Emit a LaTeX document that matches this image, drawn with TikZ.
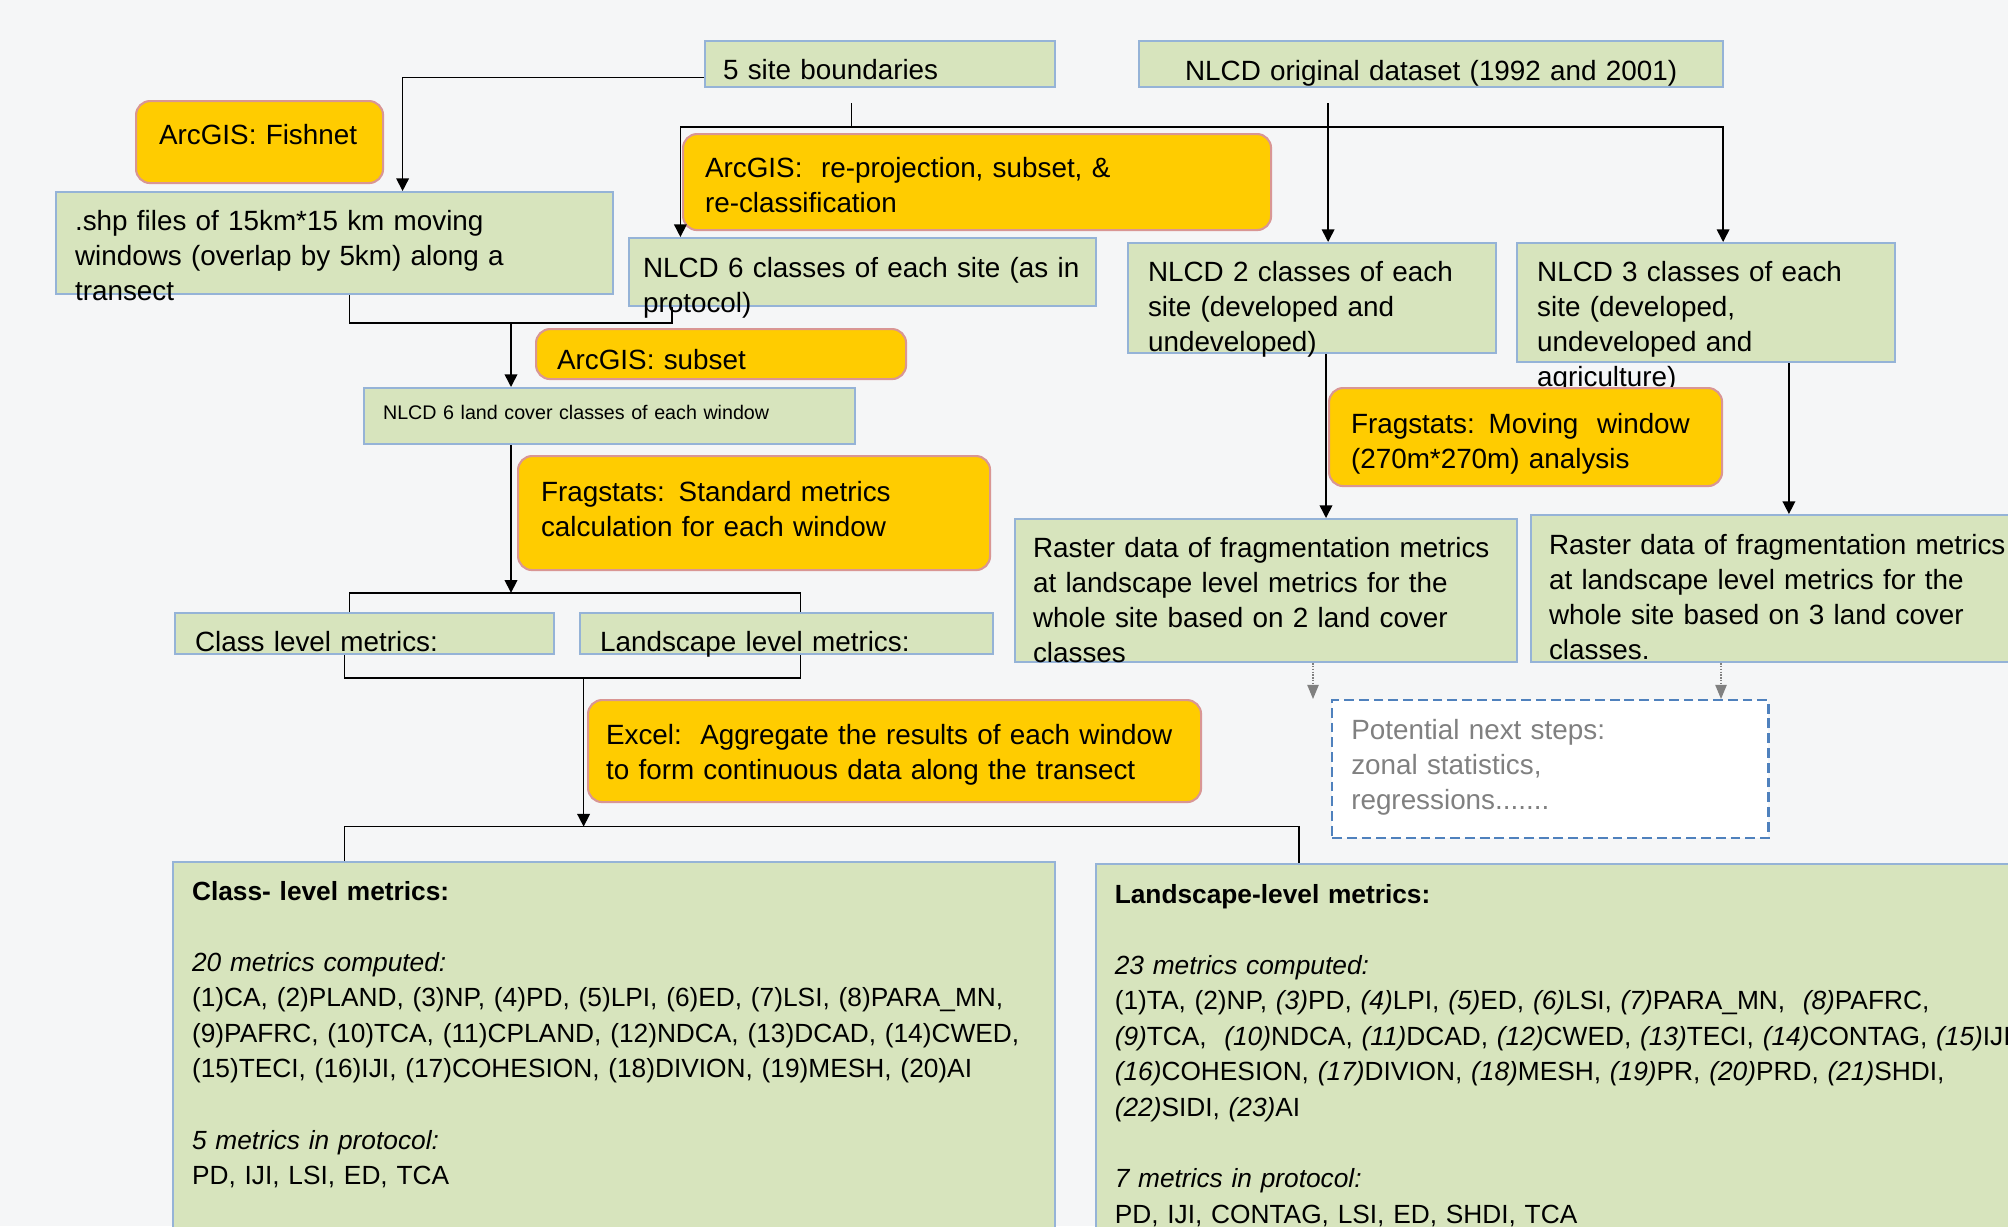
\documentclass[tikz,border=0pt]{standalone}
\usepackage{fontspec}
\setmainfont{Liberation Sans}
\usepackage{tikz}
\usetikzlibrary{arrows.meta,positioning,calc}
\definecolor{boxgreen}{RGB}{215,228,189}
\definecolor{boxedge}{RGB}{149,179,215}
\definecolor{toolyellow}{RGB}{255,204,0}
\definecolor{tooledge}{RGB}{217,150,148}
\definecolor{nextblue}{RGB}{79,129,189}
\definecolor{nextgray}{RGB}{128,128,128}
\definecolor{slidebg}{RGB}{245,246,247}
\tikzset{
  basebox/.style={rectangle,anchor=north west,align=left,inner ysep=0pt,inner xsep=0.5cm,line width=1.5pt,
    font=\fontsize{19.8}{24.9}\selectfont,execute at begin node={\hyphenpenalty=10000\exhyphenpenalty=10000}},
  datanode/.style={basebox,fill=boxgreen,draw=boxedge},
  toolnode/.style={basebox,fill=toolyellow,draw=tooledge,rounded corners=10pt,inner xsep=0.56cm},
  smallnode/.style={datanode,font=\fontsize{14}{17}\selectfont},
  metricnode/.style={datanode,inner xsep=0.48cm,font=\fontsize{18.7}{25.3}\selectfont},
  nextnode/.style={basebox,fill=white,draw=nextblue,dash pattern=on 7pt off 3.5pt,text=nextgray,inner xsep=0.48cm},
  line/.style={line width=1.1pt,black},
  thinline/.style={line width=0.7pt,black},
  arr/.style={line,-{Triangle[length=9pt,width=9pt]}},
  dotarr/.style={line width=1pt,nextgray,densely dotted,-{Triangle[length=10pt,width=8pt]}}
}

\begin{document}
\begin{tikzpicture}[node distance=0.5cm]
  \useasboundingbox (0,0) rectangle (50.2,-30.65);
  \fill[slidebg] (0,0) rectangle (50.2,-30.65);

  %% Input data
  \node[datanode,inner xsep=0.45cm,text width=7.85cm,text height=0.95cm,text depth=0.2cm] (site) at (17.6,-1.0)
    {5 site boundaries};
  \node[datanode,right=2.05cm of site,align=center,text width=13.6cm,text height=0.975cm,text depth=0.175cm] (nlcd)
    {NLCD original dataset (1992 and 2001)};

  %% ArcGIS steps
  \node[toolnode,inner xsep=0.575cm,text width=5.025cm,text height=1.075cm,text depth=0.975cm] (fishnet) at (3.375,-2.5)
    {ArcGIS: Fishnet};
  \node[toolnode,inner xsep=0.55cm,text width=13.6cm,text height=1.075cm,text depth=1.325cm] (reproj) at (17.05,-3.325)
    {ArcGIS:\ \ re-projection, subset, \&\\re-classification};
  \node[datanode,inner xsep=0.475cm,text width=12.975cm,text height=0.95cm,text depth=1.6cm] (shp) at (1.375,-4.775)
    {.shp files of 15km*15 km moving\\windows (overlap by 5km) along a\\transect};
  \node[datanode,inner xsep=0.35cm,text width=10.975cm,text height=0.975cm,text depth=0.725cm] (nlcd6) at (15.7,-5.925)
    {NLCD 6 classes of each site (as in\\protocol)};
  \node[datanode,text width=8.2cm,text height=0.95cm,text depth=1.8cm] (nlcd2) at (28.175,-6.05)
    {NLCD 2 classes of each\\site (developed and\\undeveloped)};
  \node[datanode,right=0.475cm of nlcd2.north east,anchor=north west,text width=8.45cm,text height=0.95cm,text depth=2.025cm] (nlcd3)
    {NLCD 3 classes of each\\site (developed,\\undeveloped and\\agriculture)};

  %% Window level
  \node[toolnode,inner xsep=0.525cm,text width=8.2cm,text height=1.0cm,text depth=0.25cm] (subset) at (13.375,-8.2)
    {ArcGIS: subset};
  \node[smallnode,inner xsep=0.475cm,text width=11.325cm,text height=0.775cm,text depth=0.625cm] (window) at (9.075,-9.675)
    {NLCD 6 land cover classes of each window};
  \node[toolnode,inner xsep=0.575cm,text width=10.65cm,text height=1.125cm,text depth=1.725cm] (fragstd) at (12.925,-11.375)
    {Fragstats: Standard metrics\\calculation for each window};
  \node[datanode,text width=8.475cm,text height=0.95cm,text depth=0.075cm] (classlvl) at (4.35,-15.3)
    {Class level metrics:};
  \node[datanode,right=0.6cm of classlvl,text width=9.325cm,text height=0.95cm,text depth=0.075cm] (landlvl)
    {Landscape level metrics:};
  \node[toolnode,inner xsep=0.45cm,text width=14.425cm,text height=1.1cm,text depth=1.45cm] (excel) at (14.675,-17.475)
    {Excel:\ \ Aggregate the results of each window\\to form continuous data along the transect};

  %% Whole site
  \node[toolnode,inner xsep=0.55cm,text width=8.725cm,text height=1.125cm,text depth=1.325cm] (fragmov) at (33.2,-9.675)
    {Fragstats: Moving\ \ window\\(270m*270m) analysis};
  \node[datanode,inner xsep=0.45cm,text width=11.65cm,text height=0.95cm,text depth=2.625cm] (raster2) at (25.35,-12.95)
    {Raster data of fragmentation metrics\\at landscape level metrics for the\\whole site based on 2 land cover\\classes};
  \node[datanode,inner xsep=0.45cm,text width=12.6cm,text height=0.975cm,text depth=2.7cm] (raster3) at (38.25,-12.85)
    {Raster data of fragmentation metrics\\at landscape level metrics for the\\whole site based on 3 land cover\\classes.};
  \node[nextnode,text width=9.95cm,text height=0.975cm,text depth=2.475cm] (potential) at (33.275,-17.475)
    {Potential next steps:\\zonal statistics,\\regressions.......};

  %% Metric lists
  \node[metricnode,inner xsep=0.475cm,text width=21.1cm,text height=0.95cm,text depth=8.525cm] (classbox) at (4.3,-21.525)
    {\textbf{Class- level metrics:}\\[\baselineskip]
     \textit{20 metrics computed:}\\
     (1)CA, (2)PLAND, (3)NP, (4)PD, (5)LPI, (6)ED, (7)LSI, (8)PARA\_MN,\\
     (9)PAFRC, (10)TCA, (11)CPLAND, (12)NDCA, (13)DCAD, (14)CWED,\\
     (15)TECI, (16)IJI, (17)COHESION, (18)DIVION, (19)MESH, (20)AI\\[\baselineskip]
     \textit{5 metrics in protocol:}\\
     PD, IJI, LSI, ED, TCA};
  \node[metricnode,text width=24.1375cm,text height=0.983cm,text depth=8.45cm] (landbox) at (27.3625,-21.5675)
    {\textbf{Landscape-level metrics:}\\[\baselineskip]
     \textit{23 metrics computed:}\\
     (1)TA, (2)NP, \textit{(3)}PD, \textit{(4)}LPI, \textit{(5)}ED, \textit{(6)}LSI, \textit{(7)}PARA\_MN,\ \ \textit{(8)}PAFRC,\\
     \textit{(9)}TCA,\ \ \textit{(10)}NDCA, \textit{(11)}DCAD, \textit{(12)}CWED, \textit{(13)}TECI, \textit{(14)}CONTAG, \textit{(15)}IJI,\\
     \textit{(16)}COHESION, \textit{(17)}DIVION, \textit{(18)}MESH, \textit{(19)}PR, \textit{(20)}PRD, \textit{(21)}SHDI,\\
     \textit{(22)}SIDI, \textit{(23)}AI\\[\baselineskip]
     \textit{7 metrics in protocol:}\\
     PD, IJI, CONTAG, LSI, ED, SHDI, TCA};

  %% Connectors
  \draw[arr] ([yshift=-0.34cm]site.west) -| ([xshift=8.69cm]shp.north west);
  \coordinate (sitedrop) at ([xshift=3.675cm]site.south west);
  \coordinate[below=0.975cm of sitedrop] (bus);
  \draw[thinline,shorten <=0.375cm] (sitedrop) -- (bus);
  \draw[arr] (bus) -| ([xshift=1.31cm]nlcd6.north west);
  \draw[arr] (bus) -| ([xshift=5.175cm]nlcd3.north west);
  \draw[arr,shorten <=0.375cm] ([xshift=4.75cm]nlcd.south west) -- ([xshift=4.75cm]nlcd.south west |- nlcd2.north);

  \draw[line] ([xshift=7.36cm]shp.south west) -- ++(0,-0.7) coordinate (merge) -| ([xshift=1.1cm]nlcd6.south west);
  \draw[arr] ([xshift=3.7cm]window.north west |- merge) -- ([xshift=3.7cm]window.north west);

  \draw[line] ([xshift=4.385cm]classlvl.north west) -- ++(0,0.48) coordinate (split) -| ([xshift=5.53cm]landlvl.north west);
  \draw[arr] ([xshift=3.7cm]window.south west) -- ([xshift=3.7cm]window.south west |- split);

  \draw[line] ([xshift=4.26cm]classlvl.south west) -- ++(0,-0.57) coordinate (gather) -| ([xshift=5.53cm]landlvl.south west);
  \draw[line] ([xshift=4.31cm]classbox.north west) -- ++(0,0.86) coordinate (fanout) -| ([xshift=5.11cm]landbox.north west);
  \draw[arr] ([xshift=10.24cm]classlvl.south west |- gather) -- ([xshift=10.24cm]classlvl.south west |- fanout);

  \draw[arr] ([xshift=4.975cm]nlcd2.south west) -- ([xshift=4.975cm]nlcd2.south west |- raster2.north);
  \draw[arr] ([xshift=6.82cm]nlcd3.south west) -- ([xshift=6.82cm]nlcd3.south west |- raster3.north);
  \draw[dotarr] ([xshift=7.475cm]raster2.south west) -- ([xshift=7.475cm]raster2.south west |- potential.north);
  \draw[dotarr] ([xshift=4.775cm]raster3.south west) -- ([xshift=4.775cm]raster3.south west |- potential.north);
\end{tikzpicture}
\end{document}
